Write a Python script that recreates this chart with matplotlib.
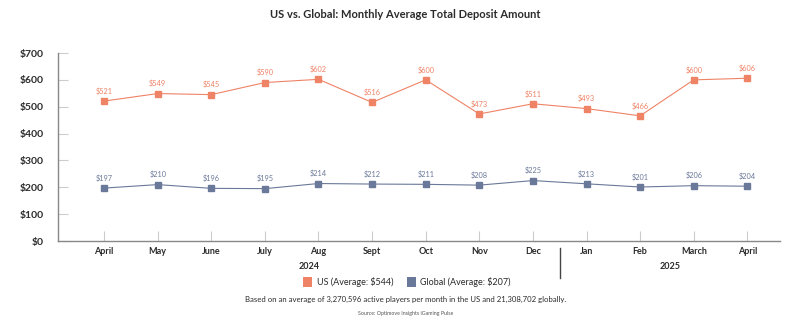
import matplotlib
matplotlib.use("Agg")
import matplotlib.pyplot as plt
from matplotlib.patches import Patch
from matplotlib.transforms import blended_transform_factory

months = ["April", "May", "June", "July", "Aug", "Sept", "Oct", "Nov", "Dec",
          "Jan", "Feb", "March", "April"]
us_values = [521, 549, 545, 590, 602, 516, 600, 473, 511, 493, 466, 600, 606]
global_values = [197, 210, 196, 195, 214, 212, 211, 208, 225, 213, 201, 206, 204]
years = ["2024", "2025"]
yticks = [0, 100, 200, 300, 400, 500, 600, 700]
us_label = "US (Average: $544)"
global_label = "Global (Average: $207)"
title = "US vs. Global: Monthly Average Total Deposit Amount"
footnote = "Based on an average of 3,270,596 active players per month in the US and 21,308,702 globally."
source = "Source: Optimove Insights iGaming Pulse"

US_COLOR = "#EE8366"
GL_COLOR = "#6A7899"
TXT = "#2b2b2b"

plt.rcParams["font.family"] = ["Lato", "DejaVu Sans"]

fig = plt.figure(figsize=(8.10, 3.21), dpi=100)
ax = fig.add_axes([58/810, 80/321, 722/810, 188/321])

x = list(range(len(months)))
ax.plot(x, us_values, color=US_COLOR, lw=0.8, marker="s", ms=4.0, zorder=3)
ax.plot(x, global_values, color=GL_COLOR, lw=0.8, marker="s", ms=4.0, zorder=3)

for xi, v in zip(x, us_values):
    ax.annotate(f"${v}", (xi, v), xytext=(0, 4.5), textcoords="offset points",
                ha="center", va="bottom", fontsize=5.3, color=US_COLOR)
for xi, v in zip(x, global_values):
    ax.annotate(f"${v}", (xi, v), xytext=(0, 4.5), textcoords="offset points",
                ha="center", va="bottom", fontsize=5.3, color=GL_COLOR)

ax.set_xlim(-0.86, 12.61)
ax.set_ylim(0, 700)
ax.set_yticks(yticks)
ax.set_yticklabels([f"${t}" for t in yticks], fontsize=7.5, color=TXT, fontweight="bold")
ax.set_xticks(x)
ax.set_xticklabels(months, fontsize=6.5, color=TXT, fontweight="bold")
ax.tick_params(axis="y", direction="in", length=7, width=0.8, color="#cccccc", pad=10)
ax.tick_params(axis="x", direction="in", length=7, width=0.8, color="#cccccc", pad=4)

for s in ["top", "right"]:
    ax.spines[s].set_visible(False)
for s in ["left", "bottom"]:
    ax.spines[s].set_color("#888888")
    ax.spines[s].set_linewidth(1.0)

tr = blended_transform_factory(ax.transData, ax.transAxes)
ax.plot([8.5, 8.5], [-0.037, -0.197], transform=tr, color="#444444", lw=1.0, clip_on=False)
ax.text((-0.86 + 8.5) / 2, -0.138, years[0], transform=tr, ha="center", va="center",
        fontsize=6.5, color=TXT, fontweight="bold")
ax.text((8.5 + 12.61) / 2, -0.138, years[1], transform=tr, ha="center", va="center",
        fontsize=6.5, color=TXT, fontweight="bold")

fig.text(405/810, 1 - 15/321, title, ha="center", va="center", fontsize=8,
         fontweight="bold", color=TXT)

handles = [Patch(facecolor=US_COLOR, edgecolor="none"), Patch(facecolor=GL_COLOR, edgecolor="none")]
leg = fig.legend(handles, [us_label, global_label], loc="center", bbox_to_anchor=(407/810, 1 - 282/321),
                 ncol=2, frameon=False, fontsize=6.5, handlelength=1.0, handleheight=1.2,
                 handletextpad=0.5, columnspacing=1.5)
for t in leg.get_texts():
    t.set_color(TXT)

fig.text(406/810, 1 - 299/321, footnote, ha="center", va="center", fontsize=5.6, color=TXT)
fig.text(406/810, 1 - 313/321, source, ha="center", va="center", fontsize=3.8, color="#555555")

fig.savefig("out.png", dpi=100, facecolor="white")
